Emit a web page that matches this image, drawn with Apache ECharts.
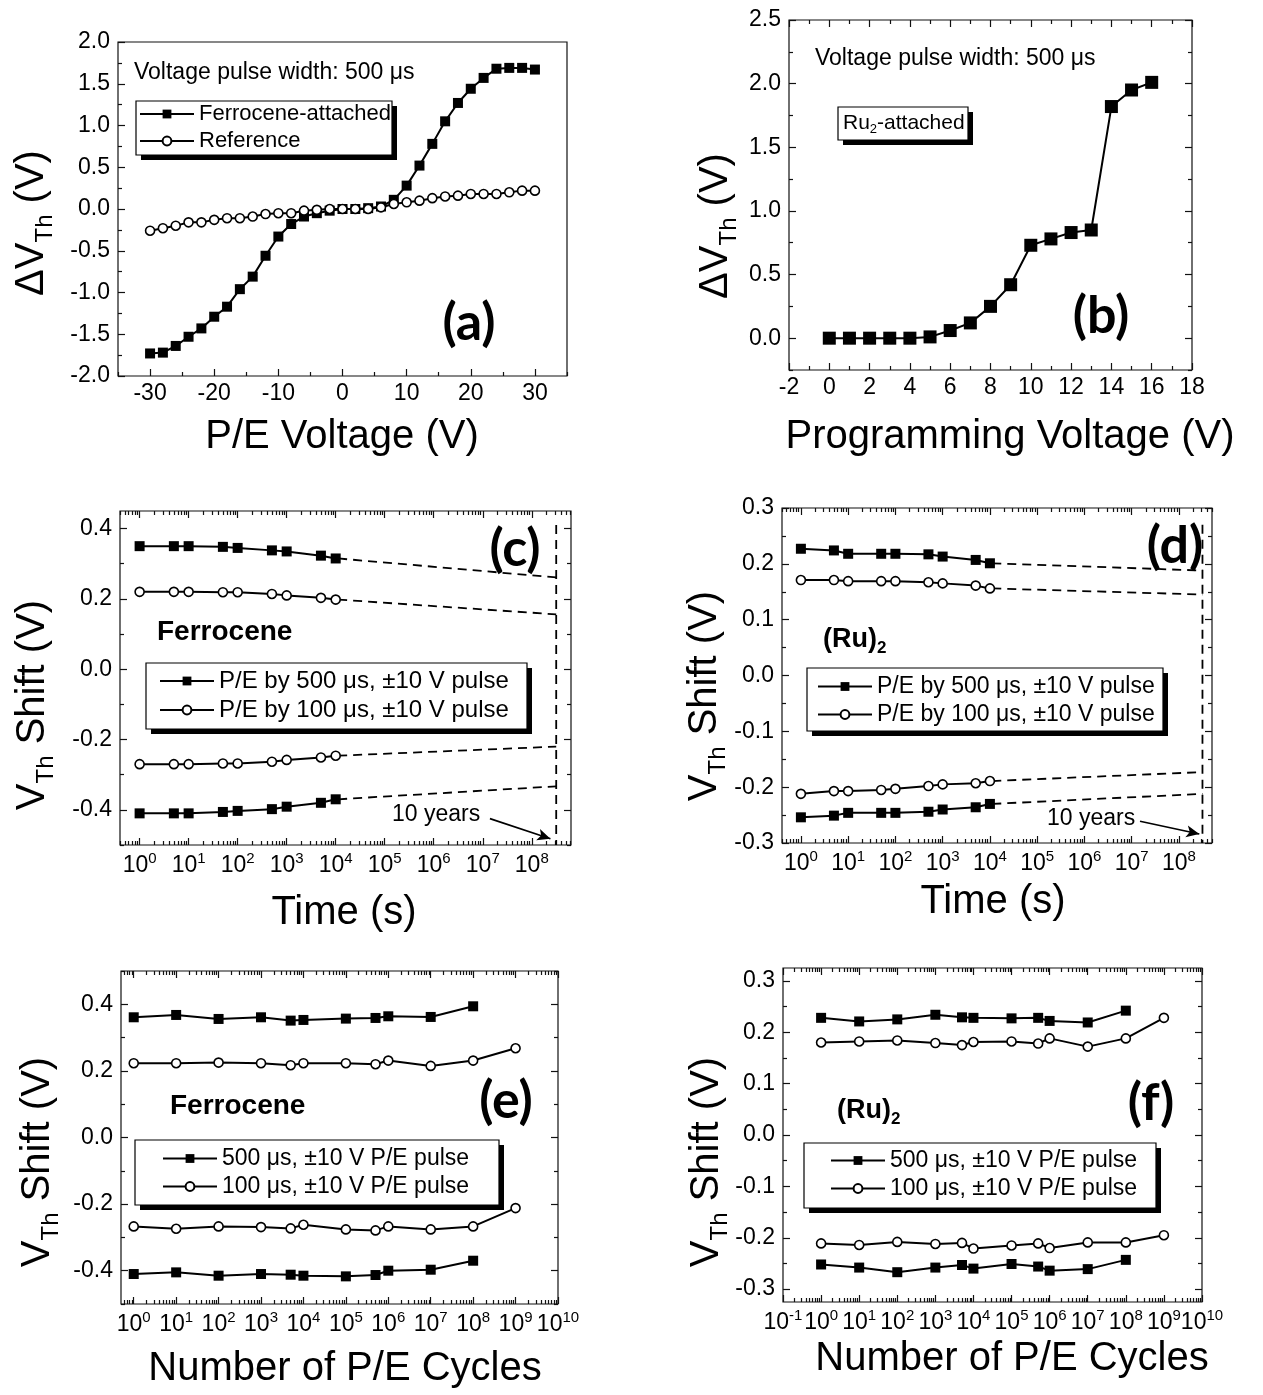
<!DOCTYPE html>
<html>
<head>
<meta charset="utf-8">
<script src="https://cdn.jsdelivr.net/npm/echarts@6/dist/echarts.min.js"></script>
<style>
html, body { margin: 0; padding: 0; background: #fff; }
#chart { width: 1263px; height: 1395px; }
</style>
</head>
<body>
<div id="chart"></div>
<script>
// ---- data: (a) threshold shift vs P/E voltage
var aVoltage = [-30,-28,-26,-24,-22,-20,-18,-16,-14,-12,-10,-8,-6,-4,-2,0,2,4,6,8,10,12,14,16,18,20,22,24,26,28,30];
var aFerrocene = [-1.73,-1.72,-1.64,-1.53,-1.43,-1.29,-1.17,-0.96,-0.81,-0.56,-0.33,-0.18,-0.09,-0.05,-0.02,0.00,0.00,0.01,0.03,0.11,0.28,0.52,0.78,1.05,1.27,1.44,1.57,1.68,1.69,1.69,1.67];
var aReference = [-0.26,-0.23,-0.20,-0.16,-0.16,-0.13,-0.11,-0.11,-0.09,-0.06,-0.05,-0.05,-0.02,-0.01,0.00,0.00,0.00,0.00,0.02,0.06,0.08,0.10,0.13,0.15,0.16,0.18,0.18,0.18,0.20,0.22,0.22];
var aXTicks = [-30,-20,-10,0,10,20,30];
var aYTicks = [-2,-1.5,-1,-0.5,0,0.5,1,1.5,2];

// ---- (b) Ru2 vs programming voltage
var bVoltage = [0,1,2,3,4,5,6,7,8,9,10,11,12,13,14,15,16];
var bRu2 = [0.00,0.00,0.00,0.00,0.00,0.01,0.06,0.12,0.25,0.42,0.73,0.78,0.83,0.85,1.82,1.95,2.01];
var bXTicks = [-2,0,2,4,6,8,10,12,14,16,18];
var bYTicks = [0,0.5,1,1.5,2,2.5];

// ---- (c) ferrocene retention
var tenYears = 3.15e8;
var cTime = [1,5,10,50,100,500,1000,5000,10000];
var cUp500 = [0.350,0.350,0.350,0.348,0.345,0.338,0.335,0.323,0.315];
var cUp100 = [0.220,0.220,0.220,0.219,0.219,0.214,0.210,0.203,0.198];
var cLow100 = [-0.270,-0.270,-0.270,-0.268,-0.268,-0.263,-0.258,-0.251,-0.246];
var cLow500 = [-0.410,-0.410,-0.410,-0.406,-0.403,-0.398,-0.391,-0.380,-0.370];
var cTenYear = [0.261, 0.156, -0.220, -0.333];
var cMarker = [0.41, -0.5];
var cArrow = [[1.4e7, -0.425], [2.4e8, -0.482]];
var cXTicks = [0,1,2,3,4,5,6,7,8];
var cYTicks = [-0.4,-0.2,0,0.2,0.4];

// ---- (d) Ru2 retention
var dTime = [1,5,10,50,100,500,1000,5000,10000];
var dUp500 = [0.227,0.224,0.218,0.218,0.218,0.217,0.213,0.207,0.201];
var dUp100 = [0.171,0.171,0.169,0.169,0.169,0.167,0.165,0.161,0.156];
var dLow100 = [-0.212,-0.207,-0.207,-0.205,-0.203,-0.198,-0.195,-0.193,-0.189];
var dLow500 = [-0.254,-0.251,-0.246,-0.246,-0.246,-0.244,-0.240,-0.236,-0.230];
var dTenYear = [0.188, 0.145, -0.173, -0.212];
var dMarker = [0.27, -0.3];
var dArrow = [[1.5e7, -0.261], [2.7e8, -0.284]];
var dXTicks = [0,1,2,3,4,5,6,7,8];
var dYTicks = [-0.3,-0.2,-0.1,0,0.1,0.2,0.3];

// ---- (e) ferrocene endurance
var eCycles = [1,10,100,1000,5000,1e4,1e5,5e5,1e6,1e7,1e8];
var eCycles100 = [1,10,100,1000,5000,1e4,1e5,5e5,1e6,1e7,1e8,1e9];
var eUp500 = [0.361,0.368,0.356,0.361,0.351,0.353,0.357,0.359,0.364,0.362,0.394];
var eUp100 = [0.223,0.223,0.225,0.223,0.217,0.223,0.223,0.220,0.231,0.215,0.231,0.268];
var eLow100 = [-0.267,-0.274,-0.267,-0.269,-0.273,-0.262,-0.276,-0.279,-0.267,-0.276,-0.267,-0.212];
var eLow500 = [-0.410,-0.405,-0.415,-0.410,-0.412,-0.415,-0.417,-0.413,-0.400,-0.397,-0.370];
var eXTicks = [0,1,2,3,4,5,6,7,8,9,10];
var eYTicks = [-0.4,-0.2,0,0.2,0.4];

// ---- (f) Ru2 endurance
var fCycles = [1,10,100,1000,5000,1e4,1e5,5e5,1e6,1e7,1e8];
var fCycles100 = [1,10,100,1000,5000,1e4,1e5,5e5,1e6,1e7,1e8,1e9];
var fUp500 = [0.228,0.221,0.225,0.234,0.229,0.228,0.227,0.228,0.222,0.219,0.242];
var fUp100 = [0.180,0.182,0.184,0.179,0.175,0.181,0.182,0.178,0.188,0.172,0.188,0.228];
var fLow100 = [-0.211,-0.214,-0.208,-0.212,-0.210,-0.221,-0.215,-0.211,-0.220,-0.209,-0.209,-0.195];
var fLow500 = [-0.252,-0.258,-0.267,-0.258,-0.253,-0.260,-0.251,-0.256,-0.264,-0.261,-0.243];
var fXTicks = [-1,0,1,2,3,4,5,6,7,8,9,10];
var fYTicks = [-0.3,-0.2,-0.1,0,0.1,0.2,0.3];

var FONT = '"Liberation Sans", Arial, sans-serif';
var BOLDFONT = 'Lato, "Open Sans", sans-serif';
var MU = '\u03bc';

var chart = echarts.init(document.getElementById('chart'));

var grids = [
    {left: 118, top: 42, width: 449, height: 334},
    {left: 789, top: 20, width: 403, height: 350},
    {left: 120, top: 511, width: 451, height: 334},
    {left: 782, top: 508, width: 430, height: 335},
    {left: 121, top: 971, width: 437, height: 333},
    {left: 783, top: 968, width: 419, height: 334}
];
grids.forEach(function(g){
    g.show = true;
    g.borderColor = '#111';
    g.borderWidth = 1.2;
    g.backgroundColor = 'transparent';
});

// minor ticks halfway between major ones
function halfSteps(ticks, range){
    var step = ticks[1] - ticks[0], out = [];
    for (var v = ticks[0] - step / 2; v <= range[1] + 1e-9; v += step)
        if (v >= range[0] - 1e-9) out.push(+v.toFixed(4));
    return out;
}
// log style minor ticks (x values are log10)
function logMinor(range){
    var out = [];
    for (var n = Math.floor(range[0]); n <= Math.ceil(range[1]); n++)
        for (var k = 2; k <= 9; k++){
            var v = n + Math.log10(k);
            if (v > range[0] && v < range[1]) out.push(v);
        }
    return out;
}

var supRich = {
    b: {fontSize: 23, fontFamily: FONT, color: '#000'},
    p: {fontSize: 15, fontFamily: FONT, color: '#000', padding: [0, 0, 15, 0]}
};
function logFmt(v){ return '{b|10}{p|' + Math.round(v) + '}'; }
function fix1(v){ return v.toFixed(1); }
function intFmt(v){ return String(Math.round(v)); }

var xAxes = [], yAxes = [];
function buildAxes(list, dim, gi, range, major, minor, fmt, mirror, rich){
    var lo = dim === 'x' ? 'bottom' : 'left';
    var hi = dim === 'x' ? 'top' : 'right';
    function ax(pos, ticks, len, labelled){
        return {
            type: 'value', gridIndex: gi, position: pos, min: range[0], max: range[1],
            axisLine: {show: false, onZero: false},
            splitLine: {show: false},
            axisTick: ticks ? {show: true, inside: true, length: len, customValues: ticks,
                               lineStyle: {color: '#111', width: 1.2}} : {show: false},
            axisLabel: labelled ? {show: true, customValues: major, formatter: fmt, color: '#000',
                                   fontFamily: FONT, fontSize: 23, margin: dim === 'x' ? 6 : 8,
                                   showMinLabel: true, showMaxLabel: true, hideOverlap: false,
                                   rich: rich} : {show: false},
            silent: true
        };
    }
    list.push(ax(lo, major, 7, true), ax(lo, minor, 4, false),
              ax(hi, mirror ? major : null, 7, false), ax(hi, mirror ? minor : null, 4, false));
}

var ranges = {
    a: {x: [-35, 35], y: [-2, 2]},
    b: {x: [-2, 18], y: [-0.25, 2.5]},
    c: {x: [-0.4, 8.8], y: [-0.5, 0.45]},
    d: {x: [-0.4, 8.7], y: [-0.3, 0.3]},
    e: {x: [-0.3, 10], y: [-0.5, 0.5]},
    f: {x: [-1, 10], y: [-0.325, 0.325]}
};

buildAxes(xAxes, 'x', 0, ranges.a.x, aXTicks, halfSteps(aXTicks, ranges.a.x), intFmt, false);
buildAxes(yAxes, 'y', 0, ranges.a.y, aYTicks, halfSteps(aYTicks, ranges.a.y), fix1, false);
buildAxes(xAxes, 'x', 1, ranges.b.x, bXTicks, halfSteps(bXTicks, ranges.b.x), intFmt, true);
buildAxes(yAxes, 'y', 1, ranges.b.y, bYTicks, halfSteps(bYTicks, ranges.b.y), fix1, true);
buildAxes(xAxes, 'x', 2, ranges.c.x, cXTicks, logMinor(ranges.c.x), logFmt, true, supRich);
buildAxes(yAxes, 'y', 2, ranges.c.y, cYTicks, halfSteps(cYTicks, ranges.c.y), fix1, true);
buildAxes(xAxes, 'x', 3, ranges.d.x, dXTicks, logMinor(ranges.d.x), logFmt, true, supRich);
buildAxes(yAxes, 'y', 3, ranges.d.y, dYTicks, halfSteps(dYTicks, ranges.d.y), fix1, true);
buildAxes(xAxes, 'x', 4, ranges.e.x, eXTicks, logMinor(ranges.e.x), logFmt, true, supRich);
buildAxes(yAxes, 'y', 4, ranges.e.y, eYTicks, halfSteps(eYTicks, ranges.e.y), fix1, true);
buildAxes(xAxes, 'x', 5, ranges.f.x, fXTicks, logMinor(ranges.f.x), logFmt, true, supRich);
buildAxes(yAxes, 'y', 5, ranges.f.y, fYTicks, halfSteps(fYTicks, ranges.f.y), fix1, true);

var series = [];
function addLine(gi, name, xs, ys, filled, size, logX){
    series.push({
        type: 'line', name: name, xAxisIndex: 4 * gi, yAxisIndex: 4 * gi,
        data: xs.map(function(x, i){ return [logX ? Math.log10(x) : x, ys[i]]; }),
        symbol: filled ? 'rect' : 'circle',
        symbolSize: size,
        itemStyle: filled ? {color: '#000'} : {color: '#fff', borderColor: '#000', borderWidth: 1.6},
        lineStyle: {color: '#000', width: 2},
        silent: true, animation: false, z: filled ? 3 : 4
    });
}
var DASH = [9, 6];
function addDashed(gi, pts){
    series.push({
        type: 'line', xAxisIndex: 4 * gi, yAxisIndex: 4 * gi, data: pts,
        symbol: 'none', lineStyle: {color: '#000', width: 1.8, type: DASH},
        silent: true, animation: false, z: 2
    });
}
function addRetention(gi, times, branches, ext, marker, arrow, n500, n100){
    var lx = times.map(function(t){ return Math.log10(t); });
    var last = lx[lx.length - 1], ty = Math.log10(tenYears);
    branches.forEach(function(b, i){
        addLine(gi, b.filled ? n500 : n100, times, b.data, b.filled, b.filled ? 10 : 9, true);
        addDashed(gi, [[last + 0.05, b.data[b.data.length - 1]], [ty, ext[i]]]);
    });
    series.push({
        type: 'line', xAxisIndex: 4 * gi, yAxisIndex: 4 * gi,
        data: [[ty, marker[0]], [ty, marker[1]]],
        symbol: 'none', lineStyle: {color: '#000', width: 1.8, type: DASH},
        silent: true, animation: false, z: 2,
        markLine: {
            silent: true, animation: false, symbol: ['none', 'arrow'], symbolSize: [9, 13],
            label: {show: false},
            lineStyle: {color: '#000', width: 1.6, type: 'solid'},
            data: [[{coord: [Math.log10(arrow[0][0]), arrow[0][1]]}, {coord: [Math.log10(arrow[1][0]), arrow[1][1]]}]]
        }
    });
}

// (a)
addLine(0, 'Ferrocene-attached', aVoltage, aFerrocene, true, 10, false);
addLine(0, 'Reference', aVoltage, aReference, false, 9, false);
// (b)
addLine(1, 'Ru2-attached', bVoltage, bRu2, true, 13, false);
// (c)
var cN500 = 'P/E by 500 ' + MU + 's, \u00b110 V pulse';
var cN100 = 'P/E by 100 ' + MU + 's, \u00b110 V pulse';
addRetention(2, cTime, [{filled: true, data: cUp500}, {filled: false, data: cUp100},
                        {filled: false, data: cLow100}, {filled: true, data: cLow500}],
             cTenYear, cMarker, cArrow, cN500, cN100);
// (d)
addRetention(3, dTime, [{filled: true, data: dUp500}, {filled: false, data: dUp100},
                        {filled: false, data: dLow100}, {filled: true, data: dLow500}],
             dTenYear, dMarker, dArrow, cN500, cN100);
// (e)
var eN500 = '500 ' + MU + 's, \u00b110 V P/E pulse';
var eN100 = '100 ' + MU + 's, \u00b110 V P/E pulse';
addLine(4, eN500, eCycles, eUp500, true, 10, true);
addLine(4, eN100, eCycles100, eUp100, false, 9, true);
addLine(4, eN100, eCycles100, eLow100, false, 9, true);
addLine(4, eN500, eCycles, eLow500, true, 10, true);
// (f)
addLine(5, eN500, fCycles, fUp500, true, 10, true);
addLine(5, eN100, fCycles100, fUp100, false, 9, true);
addLine(5, eN100, fCycles100, fLow100, false, 9, true);
addLine(5, eN500, fCycles, fLow500, true, 10, true);

var graphics = [];
// boxed frame with a solid drop shadow (Origin style)
function shadowBox(x, y, w, h, z){
    graphics.push({type: 'rect', shape: {x: x + 5, y: y + 5, width: w, height: h}, style: {fill: '#000'}, z: z, silent: true});
    graphics.push({type: 'rect', shape: {x: x, y: y, width: w, height: h}, style: {fill: '#fff', stroke: '#000', lineWidth: 1.2}, z: z, silent: true});
}
function legendAt(box, names, size, pad){
    shadowBox(box[0], box[1], box[2], box[3], 1);
    return {
        left: box[0], top: box[1], orient: 'vertical', data: names,
        itemWidth: 54, itemHeight: 11, itemGap: 5, padding: pad,
        backgroundColor: 'transparent', borderWidth: 0, z: 10,
        textStyle: {fontFamily: FONT, fontSize: size, color: '#000'},
        selectedMode: false
    };
}
var legends = [
    legendAt([136, 101, 256, 54], ['Ferrocene-attached', 'Reference'], 22, [2, 4, 3, 3]),
    legendAt([146, 663, 381, 66], [cN500, cN100], 24, [6, 15, 6, 13]),
    legendAt([807, 668, 356, 63], [cN500, cN100], 23, [7, 6, 6, 10]),
    legendAt([135, 1140, 364, 65], [eN500, eN100], 23, [7, 27, 7, 27]),
    legendAt([804, 1143, 352, 65], [eN500, eN100], 23, [6, 28, 7, 26])
];

function addText(x, y, text, size, extra){
    var st = {text: text, fontSize: size, fontFamily: FONT, fill: '#000', align: 'left', verticalAlign: 'middle'};
    for (var k in extra) st[k] = extra[k];
    graphics.push({type: 'text', x: x, y: y, style: st, z: 100, silent: true});
}
function addVTitle(x, y, text){
    graphics.push({type: 'text', x: x, y: y, rotation: Math.PI / 2, z: 100, silent: true,
        style: {text: text, fontSize: 40, fontFamily: FONT, fill: '#000', align: 'center', verticalAlign: 'middle',
                rich: {m: {fontSize: 40, fontFamily: FONT}, s: {fontSize: 24, fontFamily: FONT, padding: [26, 0, 0, 0]}}}});
}
function addPanelLabel(x, y, text){
    addText(x, y, text, 52, {fontFamily: BOLDFONT, fontWeight: 'bold', align: 'center'});
}
var subRich = function(big, small, pad, bold){
    return {n: {fontSize: big, fontFamily: FONT, fontWeight: bold ? 'bold' : 'normal'},
            s: {fontSize: small, fontFamily: FONT, fontWeight: bold ? 'bold' : 'normal', padding: [pad, 0, 0, 0]}};
};

// axis titles
addText(342, 437, 'P/E Voltage (V)', 40, {align: 'center'});
addText(1010, 437, 'Programming Voltage (V)', 40, {align: 'center'});
addText(344, 913, 'Time (s)', 40, {align: 'center'});
addText(993, 902, 'Time (s)', 40, {align: 'center'});
addText(345, 1369, 'Number of P/E Cycles', 40, {align: 'center'});
addText(1012, 1359, 'Number of P/E Cycles', 40, {align: 'center'});
addVTitle(32, 223, '{m|\u0394V}{s|Th}{m| (V)}');
addVTitle(716, 226, '{m|\u0394V}{s|Th}{m| (V)}');
addVTitle(33, 705, '{m|V}{s|Th}{m| Shift (V)}');
addVTitle(705, 696, '{m|V}{s|Th}{m| Shift (V)}');
addVTitle(38, 1162, '{m|V}{s|Th}{m| Shift (V)}');
addVTitle(707, 1162, '{m|V}{s|Th}{m| Shift (V)}');

// panel labels
addPanelLabel(469, 323, '(a)');
addPanelLabel(1101, 316, '(b)');
addPanelLabel(515, 549, '(c)');
addPanelLabel(1175, 546, '(d)');
addPanelLabel(506, 1101, '(e)');
addPanelLabel(1151, 1103, '(f)');

// annotations
addText(134, 73, 'Voltage pulse width: 500 ' + MU + 's', 23);
addText(815, 59, 'Voltage pulse width: 500 ' + MU + 's', 23);
shadowBox(838, 107, 130, 33, 99);
addText(843, 123, '{n|Ru}{s|2}{n|-attached}', 21, {rich: subRich(21, 13, 12, false)});
addText(157, 632, 'Ferrocene', 28, {fontWeight: 'bold'});
addText(170, 1106, 'Ferrocene', 28, {fontWeight: 'bold'});
addText(823, 640, '{n|(Ru)}{s|2}', 27, {rich: subRich(27, 17, 16, true)});
addText(837, 1111, '{n|(Ru)}{s|2}', 27, {rich: subRich(27, 17, 16, true)});
addText(392, 815, '10 years', 23);
addText(1047, 819, '10 years', 23);

chart.setOption({
    animation: false,
    backgroundColor: '#fff',
    grid: grids,
    xAxis: xAxes,
    yAxis: yAxes,
    legend: legends,
    series: series,
    graphic: graphics
});
</script>
</body>
</html>
